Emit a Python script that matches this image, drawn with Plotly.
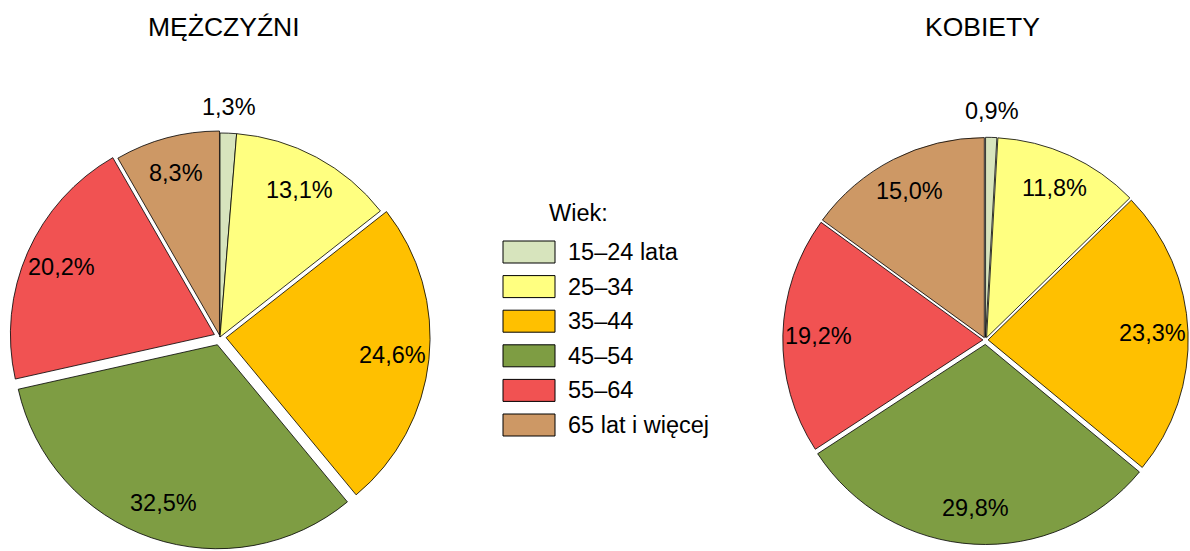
import math
import plotly.graph_objects as go

categories = ["15–24 lata", "25–34", "35–44", "45–54", "55–64", "65 lat i więcej"]
men_values = [1.3, 13.1, 24.6, 32.5, 20.2, 8.3]
women_values = [0.9, 11.8, 23.3, 29.8, 19.2, 15.0]
colors = ["#D7E4BD", "#FFFF80", "#FFC000", "#7E9D43", "#F15252", "#CD9865"]
men_pull = [0.0, 0.0, 0.03, 0.04, 0.03, 0.01]
women_pull = [0.013, 0.013, 0.013, 0.022, 0.013, 0.013]
titles = ["MĘŻCZYŹNI", "KOBIETY"]
legend_title = "Wiek:"

FONT = "Liberation Sans, Arial, sans-serif"
W, H = 1190, 551

# pie geometry in pixels: centre x, centre y, radius
men_geo = (220, 337, 204)
women_geo = (985.5, 340, 204.5 / 1.022)


def domain_for(geo, pull):
    cx, cy, r = geo
    half = r * (1 + max(pull))
    return [(cx - half) / W, min((cx + half) / W, 1.0)], [max(1 - (cy + half) / H, 0.0), 1 - (cy - half) / H]


def pie(values, pull, geo):
    dx, dy = domain_for(geo, pull)
    return go.Pie(
        labels=categories, values=values, sort=False, direction="clockwise",
        rotation=0, pull=pull, textinfo="none",
        marker=dict(colors=colors, line=dict(color="#000000", width=0.8)),
        domain=dict(x=dx, y=dy), showlegend=False, hoverinfo="label+value",
    )


def slice_labels(values, pull, geo):
    cx, cy, r = geo
    total = sum(values)
    cum = 0.0
    out = []
    for v, p in zip(values, pull):
        theta = math.radians((cum + v / 2) / total * 360)
        cum += v
        frac = 1.13 if v < 3 else 0.82
        dist = (frac + p) * r
        x = cx + dist * math.sin(theta)
        y = cy - dist * math.cos(theta)
        out.append(dict(text=f"{v:.1f}".replace(".", ",") + "%", x=x / W, y=1 - y / H,
                        xref="paper", yref="paper", xanchor="center", yanchor="middle",
                        showarrow=False, font=dict(family=FONT, size=23.5, color="#000000")))
    return out


fig = go.Figure()
fig.add_trace(pie(men_values, men_pull, men_geo))
fig.add_trace(pie(women_values, women_pull, women_geo))

annotations = [
    dict(text=titles[0], x=224 / W, y=1 - 27 / H, xref="paper", yref="paper",
         xanchor="center", yanchor="middle",
         showarrow=False, font=dict(family=FONT, size=26.5, color="#000000")),
    dict(text=titles[1], x=982 / W, y=1 - 27 / H, xref="paper", yref="paper",
         xanchor="center", yanchor="middle",
         showarrow=False, font=dict(family=FONT, size=26.5, color="#000000")),
    dict(text=legend_title, x=547 / W, y=1 - 213 / H, xref="paper", yref="paper",
         xanchor="left", yanchor="middle", showarrow=False,
         font=dict(family=FONT, size=23.5, color="#000000")),
]
annotations += slice_labels(men_values, men_pull, men_geo)
annotations += slice_labels(women_values, women_pull, women_geo)

shapes = []
top0 = 241
step = 34.6
for i, (cat, col) in enumerate(zip(categories, colors)):
    y0 = top0 + i * step
    y1 = y0 + 22
    shapes.append(dict(type="rect", xref="paper", yref="paper",
                       x0=503 / W, x1=555 / W, y0=1 - y1 / H, y1=1 - y0 / H,
                       fillcolor=col, line=dict(color="#000000", width=1)))
    annotations.append(dict(text=cat, x=566 / W, y=1 - (y0 + 11) / H,
                            xref="paper", yref="paper", xanchor="left", yanchor="middle",
                            showarrow=False, font=dict(family=FONT, size=23.5, color="#000000")))

fig.update_layout(
    width=W, height=H, margin=dict(l=0, r=0, t=0, b=0, autoexpand=False),
    paper_bgcolor="white", plot_bgcolor="white",
    annotations=annotations, shapes=shapes,
    font=dict(family=FONT),
)
fig.write_html("out.html", config={"displayModeBar": False},
               post_script="document.body.style.margin='0px';document.body.style.overflow='hidden';")
